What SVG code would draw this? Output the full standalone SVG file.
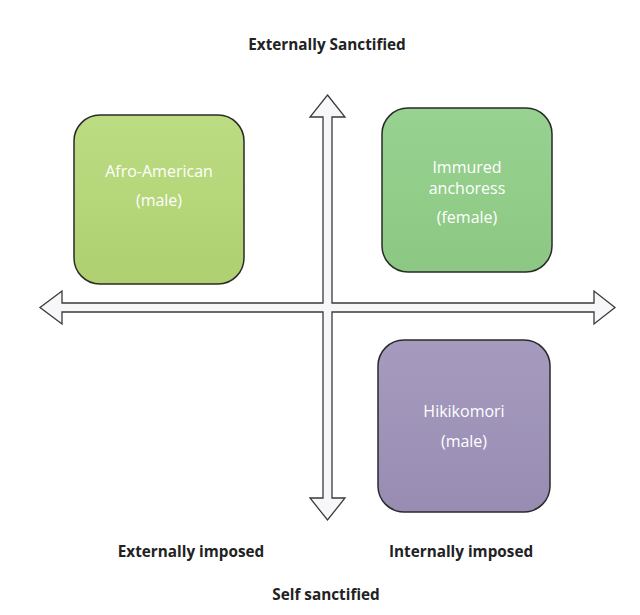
<svg xmlns="http://www.w3.org/2000/svg" width="640" height="615" viewBox="0 0 640 615">
<style>
.box{stroke:#2a2a2a;stroke-width:1.5}
.bt{font-family:"Open Sans","Liberation Sans",sans-serif;font-size:16px;fill:#ffffff;text-anchor:middle}
.lbl{font-family:"Open Sans","Liberation Sans",sans-serif;font-size:15.3px;font-weight:bold;fill:#222222;text-anchor:middle}
.arrow{fill:#f7f7f9;stroke:#3a3a3a;stroke-width:1.3;stroke-linejoin:miter}
</style>
<defs>
<linearGradient id="g1" x1="0" y1="0" x2="0" y2="1">
<stop offset="0" stop-color="#bcdc82"/><stop offset="1" stop-color="#aed070"/>
</linearGradient>
<linearGradient id="g2" x1="0" y1="0" x2="0" y2="1">
<stop offset="0" stop-color="#98d291"/><stop offset="1" stop-color="#8cc883"/>
</linearGradient>
<linearGradient id="g3" x1="0" y1="0" x2="0" y2="1">
<stop offset="0" stop-color="#a69bbf"/><stop offset="1" stop-color="#988cb2"/>
</linearGradient>
</defs>
<rect width="640" height="615" fill="#ffffff"/>
<g id="connectors">
<path class="arrow" d="M327.5,95 L345,117 L332,117 L332,303 L594,303 L594,291 L615,307.5 L594,324 L594,312 L332,312 L332,498 L345,498 L327.5,520 L310,498 L323,498 L323,312 L62,312 L62,324 L40,307.5 L62,291 L62,303 L323,303 L323,117 L310,117 Z"/>
</g>
<g id="afro-american">
<rect class="box" x="74" y="115" width="170" height="169" rx="26" fill="url(#g1)"/>
<text class="bt" x="159" y="177">Afro-American</text>
<text class="bt" x="159" y="206">(male)</text>
</g>
<g id="immured-anchoress">
<rect class="box" x="382" y="108" width="170" height="164" rx="26" fill="url(#g2)"/>
<text class="bt" x="467" y="173">Immured</text>
<text class="bt" x="467" y="194">anchoress</text>
<text class="bt" x="467" y="223">(female)</text>
</g>
<g id="hikikomori">
<rect class="box" x="378" y="340" width="172" height="172" rx="26" fill="url(#g3)"/>
<text class="bt" x="464" y="417">Hikikomori</text>
<text class="bt" x="464" y="447">(male)</text>
</g>
<g id="labels">
<text class="lbl" x="327" y="50">Externally Sanctified</text>
<text class="lbl" x="191" y="557">Externally imposed</text>
<text class="lbl" x="461" y="557">Internally imposed</text>
<text class="lbl" x="326" y="600">Self sanctified</text>
</g>
</svg>
